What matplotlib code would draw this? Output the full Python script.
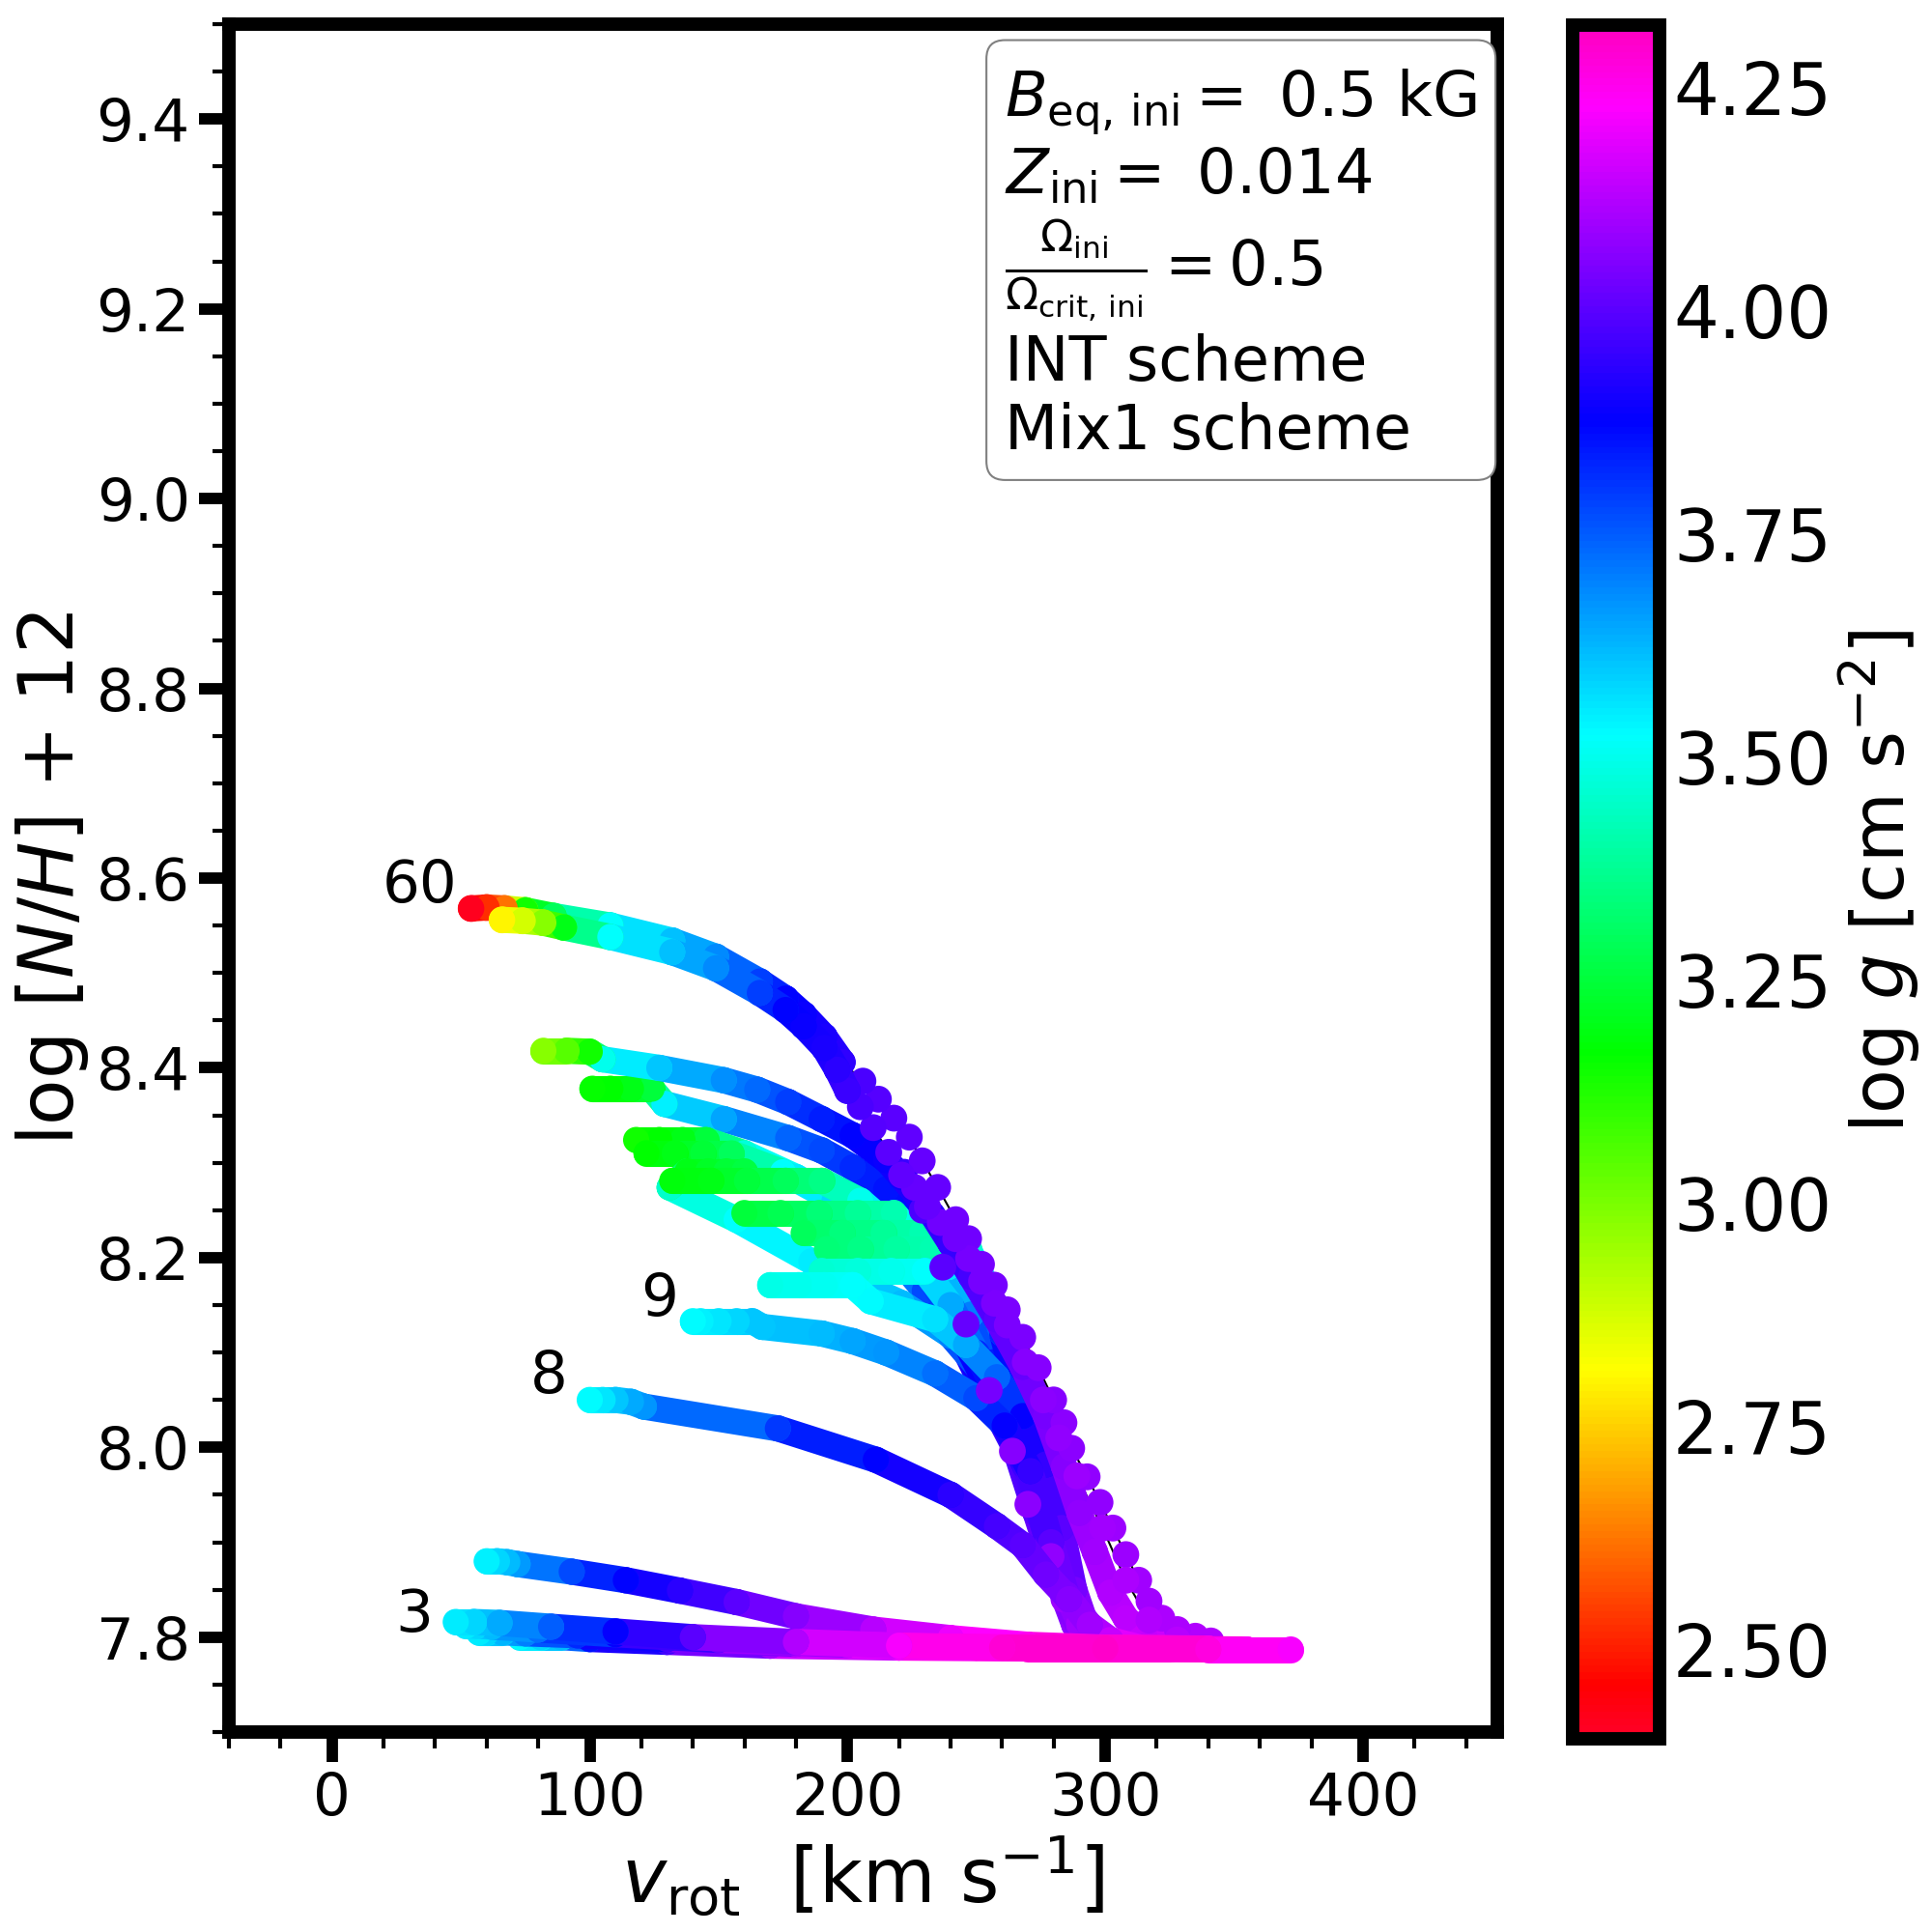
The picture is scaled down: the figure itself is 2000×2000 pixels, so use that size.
import numpy as np
import matplotlib
matplotlib.use("Agg")
import matplotlib.pyplot as plt
from matplotlib.collections import LineCollection
from matplotlib.colors import Normalize
from matplotlib.cm import ScalarMappable
from matplotlib.ticker import MultipleLocator

# evolutionary tracks, each ordered ZAMS -> end
# v = v_rot [km/s], nh = log[N/H]+12, g = log g

v_c1 = [325, 315, 308, 302, 296, 290, 284, 277, 268, 258, 248, 240, 233, 221, 215, 202, 190, 177, 165, 152, 127, 105, 100, 91, 82]
nh_c1 = [7.793, 7.803, 7.820, 7.847, 7.890, 7.931, 7.980, 8.033, 8.085, 8.135, 8.180, 8.215, 8.245, 8.285, 8.303, 8.329, 8.346, 8.364, 8.377, 8.387, 8.400, 8.409, 8.417, 8.418, 8.418]
g_c1 = [4.16, 4.15, 4.14, 4.12, 4.10, 4.08, 4.06, 4.04, 4.02, 4.00, 3.97, 3.95, 3.93, 3.90, 3.89, 3.87, 3.84, 3.79, 3.73, 3.68, 3.60, 3.50, 3.15, 3.05, 2.98]

v_c2 = [296, 288, 281, 273, 265, 252, 241, 232, 224, 215, 202, 190, 177, 152, 129, 124, 116, 108, 101]
nh_c2 = [7.795, 7.813, 7.864, 7.931, 7.999, 8.067, 8.128, 8.180, 8.232, 8.272, 8.295, 8.313, 8.326, 8.346, 8.362, 8.378, 8.378, 8.378, 8.378]
g_c2 = [4.12, 4.08, 4.04, 4.00, 3.97, 3.92, 3.90, 3.88, 3.87, 3.85, 3.82, 3.78, 3.74, 3.65, 3.54, 3.25, 3.20, 3.17, 3.16]

v_60 = [341, 335, 328, 322, 317, 313, 308, 303, 298, 293, 287, 284, 280, 274, 268, 262, 257, 252, 247, 242,
        235, 229, 224, 218, 212, 206, 198, 191, 183, 176, 166, 149, 132, 108, 86, 75, 67, 60, 54]
nh_60 = [7.796, 7.801, 7.808, 7.820, 7.838, 7.860, 7.887, 7.915, 7.942, 7.969, 7.999, 8.026, 8.050, 8.084, 8.116, 8.145, 8.171, 8.193, 8.220, 8.240,
         8.274, 8.302, 8.327, 8.347, 8.367, 8.386, 8.406, 8.433, 8.456, 8.473, 8.491, 8.517, 8.534, 8.550, 8.560, 8.566, 8.568, 8.569, 8.568]
g_60 = [4.12, 4.12, 4.11, 4.11, 4.10, 4.10, 4.09, 4.09, 4.08, 4.08, 4.07, 4.07, 4.06, 4.06, 4.05, 4.05, 4.04, 4.04, 4.03, 4.03,
        4.02, 4.02, 4.01, 4.00, 3.99, 3.98, 3.94, 3.91, 3.89, 3.87, 3.79, 3.69, 3.61, 3.52, 3.30, 3.15, 2.62, 2.52, 2.42]

v_40 = [328, 317, 308, 299, 289, 282, 276, 269, 262, 257, 252, 247, 242, 236, 231, 226, 221, 216, 210, 205,
        200, 196, 191, 183, 176, 166, 149, 132, 108, 90, 82, 74, 66]
nh_40 = [7.797, 7.818, 7.860, 7.915, 7.970, 8.010, 8.050, 8.090, 8.129, 8.152, 8.175, 8.199, 8.220, 8.237, 8.254, 8.274, 8.287, 8.311, 8.337, 8.359,
         8.376, 8.398, 8.421, 8.444, 8.461, 8.479, 8.505, 8.522, 8.538, 8.548, 8.553, 8.555, 8.556]
g_40 = [4.13, 4.12, 4.11, 4.10, 4.09, 4.08, 4.07, 4.06, 4.05, 4.05, 4.04, 4.04, 4.03, 4.03, 4.02, 4.02, 4.01, 4.00, 3.99, 3.98,
        3.96, 3.93, 3.91, 3.89, 3.87, 3.79, 3.69, 3.61, 3.52, 3.20, 2.98, 2.88, 2.80]

v_25 = [297, 290, 284, 279, 270, 264, 255, 246, 237, 229, 222]
nh_25 = [7.797, 7.814, 7.840, 7.885, 7.940, 7.996, 8.060, 8.130, 8.190, 8.250, 8.290]
g_25 = [4.12, 4.10, 4.09, 4.08, 4.07, 4.06, 4.04, 4.02, 4.00, 3.98, 3.96]

v_d1 = [298, 291, 285, 279, 271, 260, 248, 235, 220, 200, 180, 160, 145, 136, 127, 118]
nh_d1 = [7.792, 7.810, 7.845, 7.900, 7.975, 8.040, 8.100, 8.155, 8.210, 8.255, 8.285, 8.310, 8.324, 8.324, 8.324, 8.324]
g_d1 = [4.12, 4.08, 4.04, 4.00, 3.96, 3.92, 3.88, 3.80, 3.70, 3.60, 3.55, 3.48, 3.25, 3.20, 3.17, 3.15]

v_d2 = [297, 290, 284, 278, 269, 257, 244, 230, 213, 195, 175, 155, 144, 133, 122]
nh_d2 = [7.792, 7.810, 7.845, 7.900, 7.980, 8.050, 8.110, 8.165, 8.220, 8.260, 8.290, 8.310, 8.310, 8.310, 8.310]
g_d2 = [4.12, 4.08, 4.04, 4.00, 3.96, 3.92, 3.87, 3.78, 3.66, 3.58, 3.52, 3.30, 3.24, 3.20, 3.17]

v_d3 = [298, 291, 285, 279, 271, 262, 252, 240, 221, 202, 186, 157, 131, 138, 146, 153, 160]
nh_d3 = [7.790, 7.810, 7.845, 7.900, 7.975, 8.030, 8.080, 8.118, 8.152, 8.175, 8.196, 8.240, 8.274, 8.291, 8.291, 8.291, 8.291]
g_d3 = [4.12, 4.08, 4.04, 4.00, 3.96, 3.91, 3.82, 3.70, 3.62, 3.58, 3.55, 3.52, 3.45, 3.20, 3.22, 3.24, 3.26]

v_d4 = [297, 290, 284, 278, 269, 257, 245, 233, 220, 205, 190, 176, 161, 147, 132]
nh_d4 = [7.790, 7.810, 7.845, 7.900, 7.980, 8.050, 8.115, 8.175, 8.225, 8.260, 8.281, 8.281, 8.281, 8.281, 8.281]
g_d4 = [4.12, 4.08, 4.04, 4.00, 3.96, 3.92, 3.85, 3.72, 3.60, 3.50, 3.36, 3.30, 3.25, 3.20, 3.18]

v_d5 = [298, 291, 285, 279, 271, 261, 251, 241, 230, 218, 204, 189, 174, 160]
nh_d5 = [7.790, 7.810, 7.845, 7.900, 7.980, 8.045, 8.105, 8.160, 8.210, 8.247, 8.247, 8.247, 8.247, 8.247]
g_d5 = [4.12, 4.08, 4.04, 4.00, 3.96, 3.91, 3.84, 3.70, 3.56, 3.42, 3.38, 3.33, 3.28, 3.25]

v_d6 = [299, 292, 286, 281, 274, 266, 257, 248, 239, 229, 214, 198, 183]
nh_d6 = [7.790, 7.810, 7.845, 7.900, 7.970, 8.030, 8.090, 8.140, 8.190, 8.226, 8.226, 8.226, 8.226]
g_d6 = [4.12, 4.08, 4.04, 4.00, 3.96, 3.91, 3.84, 3.70, 3.56, 3.42, 3.38, 3.34, 3.30]

v_d7 = [299, 292, 286, 280, 273, 266, 260, 254, 247, 233, 219, 205, 192]
nh_d7 = [7.790, 7.810, 7.850, 7.910, 7.990, 8.060, 8.120, 8.170, 8.209, 8.209, 8.209, 8.209, 8.209]
g_d7 = [4.12, 4.08, 4.04, 4.00, 3.95, 3.90, 3.82, 3.62, 3.46, 3.42, 3.39, 3.36, 3.33]

v_d8 = [297, 290, 284, 278, 270, 260, 250, 240, 230, 217, 204, 190]
nh_d8 = [7.790, 7.810, 7.845, 7.900, 7.980, 8.045, 8.100, 8.150, 8.186, 8.186, 8.186, 8.186]
g_d8 = [4.12, 4.08, 4.04, 4.00, 3.95, 3.90, 3.82, 3.64, 3.52, 3.50, 3.48, 3.46]

v_d9 = [299, 293, 288, 283, 277, 268, 258, 246, 234, 209, 202, 191, 181, 170]
nh_d9 = [7.790, 7.810, 7.850, 7.915, 7.982, 8.033, 8.074, 8.108, 8.135, 8.154, 8.171, 8.171, 8.171, 8.171]
g_d9 = [4.12, 4.08, 4.04, 4.00, 3.95, 3.88, 3.74, 3.64, 3.57, 3.53, 3.52, 3.51, 3.50, 3.49]

v_9 = [298, 291, 285, 279, 271, 261, 250, 234, 215, 202, 190, 167, 163, 157, 150, 143, 140]
nh_9 = [7.792, 7.810, 7.845, 7.900, 7.975, 8.023, 8.052, 8.078, 8.100, 8.112, 8.120, 8.127, 8.133, 8.133, 8.133, 8.133, 8.133]
g_9 = [4.15, 4.10, 4.05, 4.00, 3.95, 3.88, 3.78, 3.72, 3.67, 3.65, 3.62, 3.60, 3.60, 3.58, 3.56, 3.54, 3.53]

v_8 = [315, 302, 294, 286, 277, 268, 258, 240, 211, 173, 121, 116, 110, 105, 100]
nh_8 = [7.788, 7.797, 7.813, 7.840, 7.866, 7.897, 7.917, 7.950, 7.987, 8.020, 8.043, 8.048, 8.050, 8.050, 8.050]
g_8 = [4.22, 4.15, 4.10, 4.06, 4.03, 4.00, 3.97, 3.93, 3.87, 3.80, 3.67, 3.64, 3.60, 3.56, 3.53]

v_f = [330, 300, 270, 240, 210, 180, 157, 135, 114, 93, 72, 68, 64, 60]
nh_f = [7.788, 7.789, 7.792, 7.799, 7.808, 7.822, 7.837, 7.849, 7.860, 7.869, 7.877, 7.879, 7.880, 7.880]
g_f = [4.27, 4.29, 4.25, 4.20, 4.13, 4.06, 4.00, 3.93, 3.87, 3.78, 3.66, 3.62, 3.58, 3.54]

v_g4 = [325, 270, 220, 170, 130, 100, 89, 81, 73]
nh_g4 = [7.788, 7.788, 7.789, 7.791, 7.795, 7.798, 7.800, 7.800, 7.800]
g_g4 = [4.27, 4.30, 4.22, 4.10, 3.97, 3.86, 3.62, 3.58, 3.53]

v_g3 = [340, 280, 230, 180, 130, 95, 75, 66, 60, 57]
nh_g3 = [7.788, 7.789, 7.790, 7.793, 7.798, 7.802, 7.804, 7.805, 7.805, 7.805]
g_g3 = [4.25, 4.30, 4.22, 4.12, 3.97, 3.82, 3.70, 3.63, 3.58, 3.55]

v_g2 = [355, 300, 250, 200, 150, 110, 80, 62, 56, 52]
nh_g2 = [7.787, 7.788, 7.789, 7.792, 7.797, 7.803, 7.808, 7.811, 7.812, 7.812]
g_g2 = [4.24, 4.30, 4.27, 4.15, 4.03, 3.88, 3.72, 3.62, 3.58, 3.55]

v_3 = [372, 340, 300, 260, 220, 180, 140, 110, 85, 65, 55, 48]
nh_3 = [7.787, 7.787, 7.788, 7.789, 7.791, 7.795, 7.800, 7.806, 7.811, 7.815, 7.816, 7.816]
g_3 = [4.22, 4.27, 4.30, 4.29, 4.22, 4.12, 4.00, 3.88, 3.75, 3.64, 3.58, 3.55]

# mass labels next to track ends
mass_labels = ["60", "9", "8", "3"]
mass_label_x = [34, 127, 84, 32]
mass_label_y = [8.591, 8.156, 8.074, 7.823]

cbar_ticks = [2.50, 2.75, 3.00, 3.25, 3.50, 3.75, 4.00, 4.25]

cmap = plt.get_cmap("gist_rainbow")
norm = Normalize(vmin=2.40, vmax=4.32)

TUBE = 19.5  # marker diameter in points


def draw_tube(ax, v, nh, g, z, lw=TUBE):
    v = np.asarray(v, float)
    nh = np.asarray(nh, float)
    g = np.asarray(g, float)
    pts = np.column_stack([v, nh])
    segs = np.stack([pts[:-1], pts[1:]], axis=1)
    lc = LineCollection(segs, cmap=cmap, norm=norm, linewidths=lw,
                        capstyle="round", joinstyle="round", zorder=z)
    lc.set_array(0.5 * (g[:-1] + g[1:]))
    ax.add_collection(lc)
    ax.scatter(v, nh, c=g, cmap=cmap, norm=norm, s=lw ** 2,
               edgecolors="none", zorder=z + 0.001)


def draw_dots(ax, v, nh, g, z, size=20):
    ax.plot(v, nh, color="k", lw=1.5, zorder=1)
    ax.scatter(v, nh, c=g, cmap=cmap, norm=norm, s=size ** 2,
               edgecolors="none", zorder=z)


fig = plt.figure(figsize=(20, 20), dpi=100)
ax = fig.add_axes([0.1185, 0.1035, 0.6563, 0.884])

# intermediate-mass tracks first
mid_tracks = [
    (v_c2, nh_c2, g_c2),
    (v_d1, nh_d1, g_d1), (v_d2, nh_d2, g_d2), (v_d3, nh_d3, g_d3),
    (v_d4, nh_d4, g_d4), (v_d5, nh_d5, g_d5), (v_d6, nh_d6, g_d6),
    (v_d7, nh_d7, g_d7), (v_d8, nh_d8, g_d8), (v_d9, nh_d9, g_d9),
    (v_9, nh_9, g_9),
]
for i, (v, nh, g) in enumerate(mid_tracks):
    draw_tube(ax, v, nh, g, 2.0 + 0.01 * i)

# massive tracks on top: dense part as a tube, the rest as dots
draw_tube(ax, v_c1, nh_c1, g_c1, 2.2)
draw_dots(ax, v_25, nh_25, g_25, 2.21)
for i, (v, nh, g) in enumerate([(v_60, nh_60, g_60), (v_40, nh_40, g_40)]):
    v = np.asarray(v)
    dense = v <= 200
    draw_dots(ax, v, nh, g, 2.22 + 0.01 * i)
    draw_tube(ax, v[dense], np.asarray(nh)[dense], np.asarray(g)[dense], 2.22 + 0.01 * i)

# low-mass tracks
low_tracks = [
    (v_8, nh_8, g_8), (v_f, nh_f, g_f),
    (v_g4, nh_g4, g_g4), (v_g3, nh_g3, g_g3), (v_g2, nh_g2, g_g2),
    (v_3, nh_3, g_3),
]
for i, (v, nh, g) in enumerate(low_tracks):
    draw_tube(ax, v, nh, g, 2.3 + 0.01 * i)

for lab, x, y in zip(mass_labels, mass_label_x, mass_label_y):
    ax.text(x, y, lab, fontsize=44, ha="center", va="center", zorder=5)

ax.set_xlim(-40, 452)
ax.set_ylim(7.7, 9.5)
ax.xaxis.set_major_locator(MultipleLocator(100))
ax.xaxis.set_minor_locator(MultipleLocator(20))
ax.yaxis.set_major_locator(MultipleLocator(0.2))
ax.yaxis.set_minor_locator(MultipleLocator(0.05))
ax.tick_params(which="major", direction="out", length=22, width=8.5,
               labelsize=44, pad=7)
ax.tick_params(which="minor", direction="out", length=12, width=3)
for sp in ax.spines.values():
    sp.set_linewidth(10)

ax.set_xlabel(r"$v_{\rm rot}$  [km s$^{-1}$]", fontsize=56)
ax.set_ylabel(r"log [$N/H$] + 12", fontsize=56)

info = (r"$B_{\rm eq,\,ini} = $ 0.5 kG" "\n"
        r"$Z_{\rm ini} = $ 0.014" "\n"
        r"$\frac{\Omega_{\rm ini}}{\Omega_{\rm crit,\,ini}} = 0.5$" "\n"
        "INT scheme\n"
        "Mix1 scheme")
ax.text(0.612, 0.975, info, transform=ax.transAxes, ha="left", va="top",
        fontsize=46, linespacing=1.18, zorder=6,
        bbox=dict(boxstyle="round,pad=0.3", fc="white", ec="0.5", lw=1.5))

cax = fig.add_axes([0.814, 0.100, 0.045, 0.887])
sm = ScalarMappable(norm=norm, cmap=cmap)
cbar = fig.colorbar(sm, cax=cax, ticks=cbar_ticks, format="%.2f")
cbar.outline.set_linewidth(10)
cbar.ax.tick_params(length=0, labelsize=53, pad=10)
cbar.set_label(r"log $g$ [cm s$^{-2}$]", fontsize=54, labelpad=4)

fig.savefig("out.png", dpi=100)
